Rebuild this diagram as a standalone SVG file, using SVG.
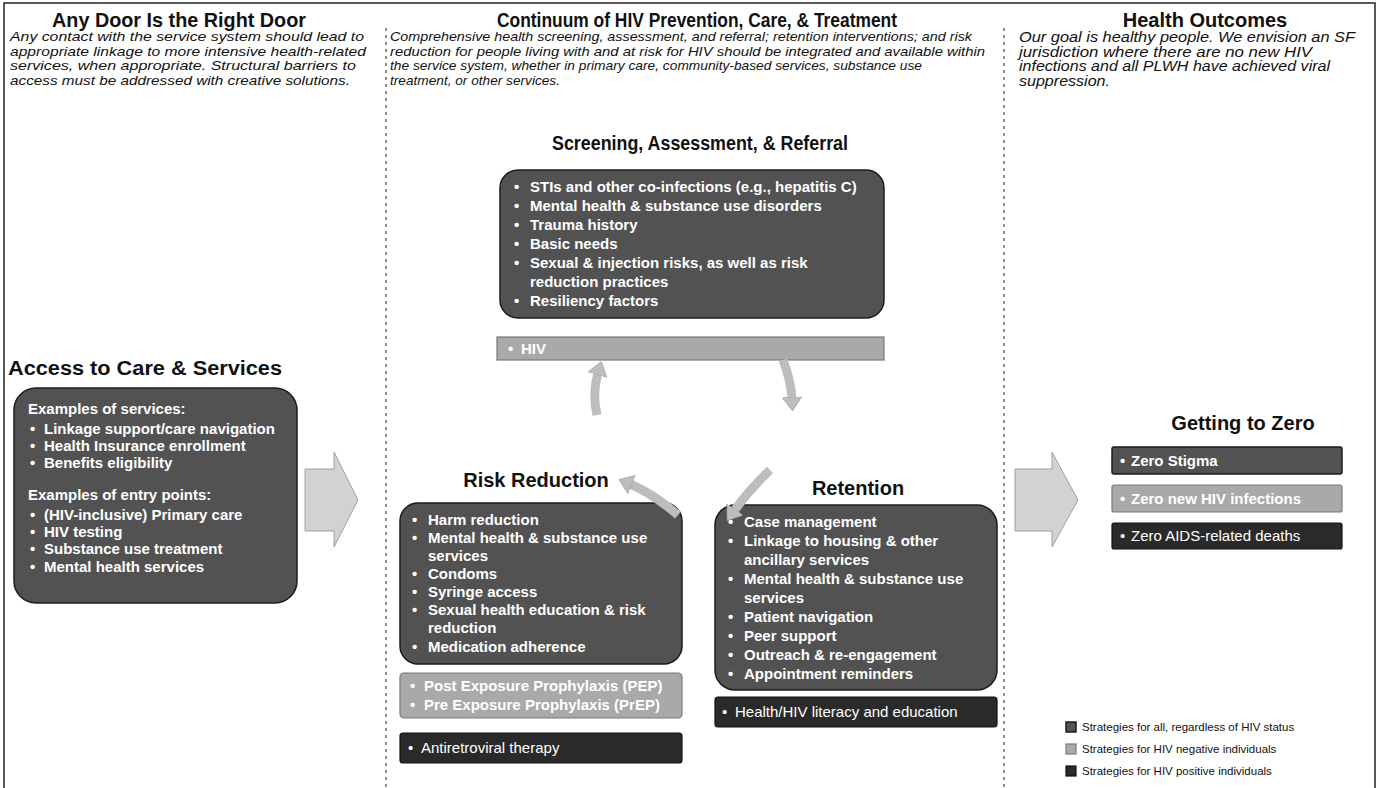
<svg xmlns="http://www.w3.org/2000/svg" width="1378" height="788" viewBox="0 0 1378 788">
<style>
.h{font-family:"Liberation Sans",Arial,sans-serif;font-weight:bold;font-size:20px;fill:#111}
.d{font-family:"Liberation Sans",Arial,sans-serif;font-style:italic;font-size:13px;fill:#111}
.dr{font-family:"Liberation Sans",Arial,sans-serif;font-style:italic;font-size:14px;fill:#111}
.b{font-family:"Liberation Sans",Arial,sans-serif;font-weight:bold;font-size:15px;fill:#fff}
.r{font-family:"Liberation Sans",Arial,sans-serif;font-size:15px;fill:#fff}
.lg{font-family:"Liberation Sans",Arial,sans-serif;font-size:11.5px;fill:#111}
.all{fill:#525252;stroke:#1c1c1c;stroke-width:1.5}
.neg{fill:#a9a9a9;stroke:#7a7a7a;stroke-width:1.2}
.pos{fill:#2a2a2a;stroke:#111;stroke-width:1.2}
.blk{fill:#d2d2d2;stroke:#a0a0a0;stroke-width:1}
.cur{fill:none;stroke:#bdbdbd;stroke-width:9;marker-end:url(#head)}
.div{stroke:#444;stroke-width:1.2;stroke-dasharray:3 4;fill:none}
</style>
<defs>
<marker id="head" viewBox="0 0 14 20" markerWidth="14" markerHeight="20" refX="2" refY="10" orient="auto" markerUnits="userSpaceOnUse">
<path d="M0,0 L14,10 L0,20 Z" fill="#bdbdbd" stroke="#999" stroke-width="0.6"/>
</marker>
</defs>
<rect x="0" y="0" width="1378" height="788" fill="#fff"/>

<g id="frame">
<path d="M4,788 V3 H1375 V788" fill="none" stroke="#222" stroke-width="1.5"/>
<line class="div" x1="386" y1="28" x2="386" y2="788"/>
<line class="div" x1="1004" y1="28" x2="1004" y2="788"/>
</g>

<g id="col-any-door">
<text class="h" x="179" y="27" text-anchor="middle" textLength="254" lengthAdjust="spacingAndGlyphs">Any Door Is the Right Door</text>
<text class="d" x="10" y="41" textLength="354" lengthAdjust="spacingAndGlyphs">Any contact with the service system should lead to</text>
<text class="d" x="10" y="56" textLength="356" lengthAdjust="spacingAndGlyphs">appropriate linkage to more intensive health-related</text>
<text class="d" x="10" y="70" textLength="346" lengthAdjust="spacingAndGlyphs">services, when appropriate. Structural barriers to</text>
<text class="d" x="10" y="85" textLength="340" lengthAdjust="spacingAndGlyphs">access must be addressed with creative solutions.</text>
</g>

<g id="col-continuum">
<text class="h" x="697" y="27" text-anchor="middle" textLength="400" lengthAdjust="spacingAndGlyphs">Continuum of HIV Prevention, Care, &amp; Treatment</text>
<text class="d" x="390" y="41" textLength="582" lengthAdjust="spacingAndGlyphs">Comprehensive health screening, assessment, and referral; retention interventions; and risk</text>
<text class="d" x="390" y="56" textLength="595" lengthAdjust="spacingAndGlyphs">reduction for people living with and at risk for HIV should be integrated and available within</text>
<text class="d" x="390" y="70" textLength="532" lengthAdjust="spacingAndGlyphs">the service system, whether in primary care, community-based services, substance use</text>
<text class="d" x="390" y="85" textLength="170" lengthAdjust="spacingAndGlyphs">treatment, or other services.</text>
</g>

<g id="col-outcomes">
<text class="h" x="1205" y="27" text-anchor="middle">Health Outcomes</text>
<text class="dr" x="1019" y="42" textLength="336" lengthAdjust="spacingAndGlyphs">Our goal is healthy people.  We envision an SF</text>
<text class="dr" x="1019" y="57" textLength="293" lengthAdjust="spacingAndGlyphs">jurisdiction where  there are no new HIV</text>
<text class="dr" x="1019" y="71" textLength="311" lengthAdjust="spacingAndGlyphs">infections and all PLWH have achieved viral</text>
<text class="dr" x="1019" y="86" textLength="91" lengthAdjust="spacingAndGlyphs">suppression.</text>
</g>

<g id="screening">
<text class="h" x="700" y="150" text-anchor="middle" textLength="296" lengthAdjust="spacingAndGlyphs">Screening, Assessment, &amp; Referral</text>
<rect class="all" x="500" y="170" width="384" height="148" rx="18"/>
<text class="b" x="514" y="192">•</text><text class="b" x="530" y="192">STIs and other co-infections (e.g., hepatitis C)</text>
<text class="b" x="514" y="211">•</text><text class="b" x="530" y="211">Mental health &amp; substance use disorders</text>
<text class="b" x="514" y="230">•</text><text class="b" x="530" y="230">Trauma history</text>
<text class="b" x="514" y="249">•</text><text class="b" x="530" y="249">Basic needs</text>
<text class="b" x="514" y="268">•</text><text class="b" x="530" y="268">Sexual &amp; injection risks, as well as risk</text>
<text class="b" x="530" y="287">reduction practices</text>
<text class="b" x="514" y="306">•</text><text class="b" x="530" y="306">Resiliency factors</text>
</g>

<g id="hiv-screening">
<rect class="neg" x="497" y="337" width="387" height="23"/>
<text class="b" x="508" y="354">•</text><text class="b" x="521" y="354">HIV</text>
</g>

<g id="access">
<text class="h" x="8" y="375" textLength="274" lengthAdjust="spacingAndGlyphs">Access to Care &amp; Services</text>
<rect class="all" x="14" y="388" width="283" height="215" rx="22"/>
<text class="b" x="28" y="414">Examples of services:</text>
<text class="b" x="30" y="434">•</text><text class="b" x="44" y="434">Linkage support/care navigation</text>
<text class="b" x="30" y="451">•</text><text class="b" x="44" y="451">Health Insurance enrollment</text>
<text class="b" x="30" y="468">•</text><text class="b" x="44" y="468">Benefits eligibility</text>
<text class="b" x="28" y="500">Examples of entry points:</text>
<text class="b" x="30" y="520">•</text><text class="b" x="44" y="520">(HIV-inclusive) Primary care</text>
<text class="b" x="30" y="537">•</text><text class="b" x="44" y="537">HIV testing</text>
<text class="b" x="30" y="554">•</text><text class="b" x="44" y="554">Substance use treatment</text>
<text class="b" x="30" y="572">•</text><text class="b" x="44" y="572">Mental health services</text>
</g>

<g id="risk-reduction">
<text class="h" x="536" y="487" text-anchor="middle">Risk Reduction</text>
<rect class="all" x="400" y="503" width="282" height="161" rx="18"/>
<text class="b" x="412" y="525">•</text><text class="b" x="428" y="525">Harm reduction</text>
<text class="b" x="412" y="543">•</text><text class="b" x="428" y="543">Mental health &amp; substance use</text>
<text class="b" x="428" y="561">services</text>
<text class="b" x="412" y="579">•</text><text class="b" x="428" y="579">Condoms</text>
<text class="b" x="412" y="597">•</text><text class="b" x="428" y="597">Syringe access</text>
<text class="b" x="412" y="615">•</text><text class="b" x="428" y="615">Sexual health education &amp; risk</text>
<text class="b" x="428" y="633">reduction</text>
<text class="b" x="412" y="652">•</text><text class="b" x="428" y="652">Medication adherence</text>
</g>

<g id="pep-prep">
<rect class="neg" x="400" y="673" width="282" height="45" rx="4"/>
<text class="b" x="410" y="691">•</text><text class="b" x="424" y="691">Post Exposure Prophylaxis (PEP)</text>
<text class="b" x="410" y="710">•</text><text class="b" x="424" y="710">Pre Exposure Prophylaxis (PrEP)</text>
</g>

<g id="art">
<rect class="pos" x="400" y="733" width="282" height="30" rx="3"/>
<text class="r" x="408" y="753">•</text><text class="r" x="421" y="753">Antiretroviral therapy</text>
</g>

<g id="retention">
<text class="h" x="858" y="495" text-anchor="middle">Retention</text>
<rect class="all" x="715" y="505" width="282" height="185" rx="20"/>
<text class="b" x="728" y="527">•</text><text class="b" x="744" y="527">Case management</text>
<text class="b" x="728" y="546">•</text><text class="b" x="744" y="546">Linkage to housing &amp; other</text>
<text class="b" x="744" y="565">ancillary services</text>
<text class="b" x="728" y="584">•</text><text class="b" x="744" y="584">Mental health &amp; substance use</text>
<text class="b" x="744" y="603">services</text>
<text class="b" x="728" y="622">•</text><text class="b" x="744" y="622">Patient navigation</text>
<text class="b" x="728" y="641">•</text><text class="b" x="744" y="641">Peer support</text>
<text class="b" x="728" y="660">•</text><text class="b" x="744" y="660">Outreach &amp; re-engagement</text>
<text class="b" x="728" y="679">•</text><text class="b" x="744" y="679">Appointment reminders</text>
</g>

<g id="literacy">
<rect class="pos" x="715" y="697" width="282" height="30" rx="3"/>
<text class="r" x="722" y="717">•</text><text class="r" x="735" y="717" font-size="15.5">Health/HIV  literacy and education</text>
</g>

<g id="getting-to-zero">
<text class="h" x="1243" y="430" text-anchor="middle">Getting to Zero</text>
<rect class="all" x="1112" y="447" width="230" height="27" rx="2"/>
<text class="b" x="1120" y="466">•</text><text class="b" x="1131" y="466">Zero Stigma</text>
<rect class="neg" x="1112" y="485" width="230" height="27" rx="2"/>
<text class="b" x="1120" y="504">•</text><text class="b" x="1131" y="504">Zero new HIV infections</text>
<rect class="pos" x="1112" y="523" width="230" height="26" rx="2"/>
<text class="r" x="1120" y="541">•</text><text class="r" x="1131" y="541">Zero AIDS-related deaths</text>
</g>

<g id="legend">
<rect class="all" x="1066" y="722" width="10" height="10"/>
<text class="lg" x="1082" y="731">Strategies for all, regardless of HIV status</text>
<rect class="neg" x="1066" y="744" width="10" height="10"/>
<text class="lg" x="1082" y="753">Strategies for HIV negative individuals</text>
<rect class="pos" x="1066" y="766" width="10" height="10"/>
<text class="lg" x="1082" y="775">Strategies for HIV positive individuals</text>
</g>

<g id="connectors">
<path class="blk" d="M305,469 L334,469 L334,452 L358,500 L334,547 L334,531 L305,531 Z"/>
<path class="blk" d="M1015,469 L1052,469 L1052,452 L1078,500 L1052,547 L1052,531 L1015,531 Z"/>
<path class="cur" d="M597,415 Q592,393 598,373"/>
<path class="cur" d="M783,360 Q791,381 792,399"/>
<path class="cur" d="M678,515 Q652,493 630,484"/>
<path class="cur" d="M770,470 Q749,490 734,511"/>
</g>
</svg>
